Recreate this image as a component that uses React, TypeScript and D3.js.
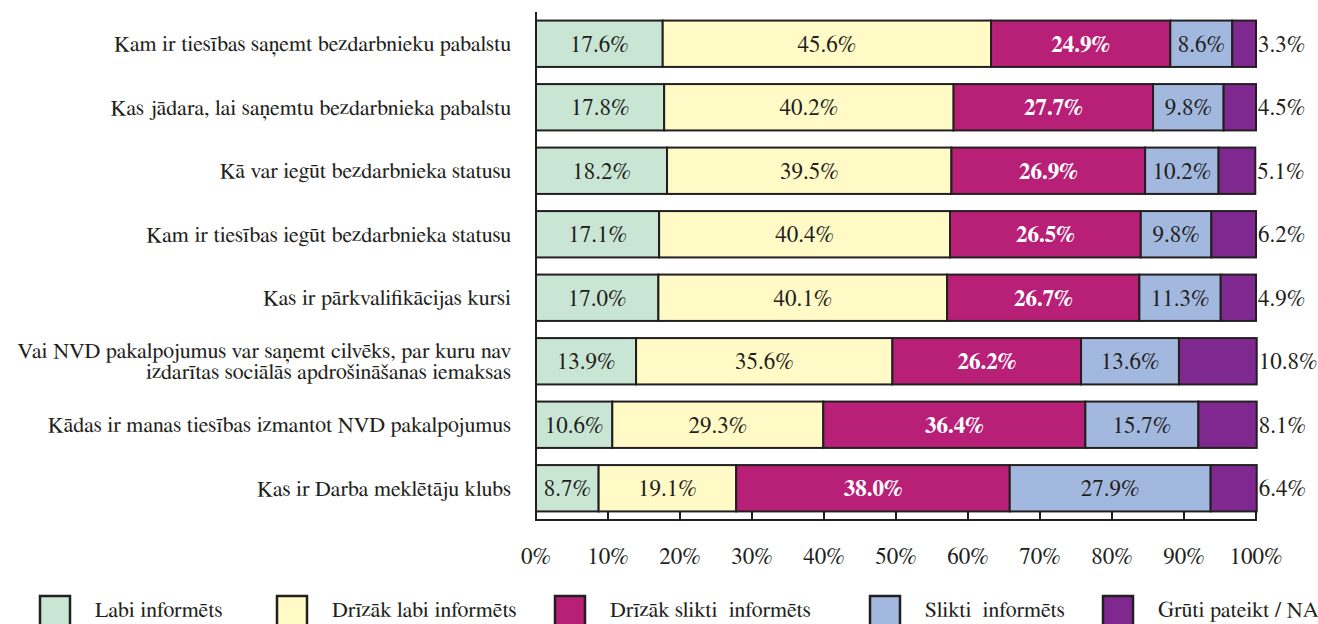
import * as d3 from 'd3';
import React from 'react';

const categories = [
  'Kam ir tiesības saņemt bezdarbnieku pabalstu',
  'Kas jādara, lai saņemtu bezdarbnieka pabalstu',
  'Kā var iegūt bezdarbnieka statusu',
  'Kam ir tiesības iegūt bezdarbnieka statusu',
  'Kas ir pārkvalifikācijas kursi',
  'Vai NVD pakalpojumus var saņemt cilvēks, par kuru nav|izdarītas sociālās apdrošināšanas iemaksas',
  'Kādas ir manas tiesības izmantot NVD pakalpojumus',
  'Kas ir Darba meklētāju klubs'
];

const seriesNames = [
  'Labi informēts',
  'Drīzāk labi informēts',
  'Drīzāk slikti  informēts',
  'Slikti  informēts',
  'Grūti pateikt / NA'
];

const labi = [17.6, 17.8, 18.2, 17.1, 17.0, 13.9, 10.6, 8.7];
const drizakLabi = [45.6, 40.2, 39.5, 40.4, 40.1, 35.6, 29.3, 19.1];
const drizakSlikti = [24.9, 27.7, 26.9, 26.5, 26.7, 26.2, 36.4, 38.0];
const slikti = [8.6, 9.8, 10.2, 9.8, 11.3, 13.6, 15.7, 27.9];
const gruti = [3.3, 4.5, 5.1, 6.2, 4.9, 10.8, 8.1, 6.4];

const tickValues = [0, 10, 20, 30, 40, 50, 60, 70, 80, 90, 100];

const colors = ['#c9e6d5', '#fffac6', '#b81f76', '#a2b8df', '#7f2890'];
const ink = '#231f20';
const font = 'FreeSerif, "Liberation Serif", Tinos, "Nimbus Roman", serif';

const width = 1318;
const height = 624;

const App = () => {
  const series = [labi, drizakLabi, drizakSlikti, slikti, gruti];
  const rows = categories.map((c, i) => {
    const r: Record<string, number | string> = { cat: c };
    seriesNames.forEach((s, j) => (r[s] = series[j][i]));
    return r;
  });
  const stacked = d3.stack<Record<string, number | string>>().keys(seriesNames)(rows as any);

  const x = d3.scaleLinear().domain([0, 100]).range([536, 1256]);
  const y = d3
    .scaleBand<string>()
    .domain(categories)
    .range([12, 520])
    .paddingInner(0.27)
    .paddingOuter(0.135);

  const axisY = 520;
  const legendX = d3.scaleOrdinal<string, number>().domain(seriesNames).range([40, 277, 555, 870, 1103]);

  return (
    <svg width={width} height={height} style={{ position: 'absolute', left: 0, top: 0, background: '#fff' }}>
      {stacked.map((layer, j) => (
        <g key={layer.key}>
          {layer.map((d, i) => (
            <rect
              key={i}
              x={x(d[0])}
              y={y(categories[i])}
              width={x(d[1]) - x(d[0])}
              height={y.bandwidth()}
              fill={colors[j]}
              stroke={ink}
              strokeWidth={2}
            />
          ))}
        </g>
      ))}

      {stacked.map((layer, j) => (
        <g key={'l' + layer.key}>
          {layer.map((d, i) => {
            const v = series[j][i];
            const cy = (y(categories[i]) as number) + y.bandwidth() / 2;
            if (j === 4) {
              return (
                <text key={i} x={x(d[1]) + 2} y={cy} dy="0.35em" fill={ink} fontSize={23} style={{ fontFamily: font }}>
                  {v.toFixed(1)}%
                </text>
              );
            }
            return (
              <text
                key={i}
                x={(x(d[0]) + x(d[1])) / 2}
                y={cy}
                dy="0.35em"
                textAnchor="middle"
                fill={j === 2 ? '#fff' : ink}
                fontSize={23}
                fontWeight={j === 2 ? 'bold' : undefined}
                style={{ fontFamily: font }}
              >
                {v.toFixed(1)}%
              </text>
            );
          })}
        </g>
      ))}

      {categories.map((c) => {
        const lines = c.split('|');
        const cy = (y(c) as number) + y.bandwidth() / 2;
        const lh = 21;
        return (
          <text key={c} x={511} y={cy} textAnchor="end" fill={ink} fontSize={22} style={{ fontFamily: font }}>
            {lines.map((l, k) => (
              <tspan key={k} x={511} y={cy + (k - (lines.length - 1) / 2) * lh} dy="0.35em">
                {l}
              </tspan>
            ))}
          </text>
        );
      })}

      <line x1={x(0)} x2={x(0)} y1={12} y2={axisY + 1} stroke={ink} strokeWidth={2} />
      <line x1={x(0) - 1} x2={x(100) + 1} y1={axisY} y2={axisY} stroke={ink} strokeWidth={2} />
      {tickValues.map((t) => (
        <g key={t}>
          <line x1={x(t)} x2={x(t)} y1={axisY - 8} y2={axisY} stroke={ink} strokeWidth={2} />
          <text x={x(t)} y={556} dy="0.35em" textAnchor="middle" fill={ink} fontSize={23} style={{ fontFamily: font }}>
            {t}%
          </text>
        </g>
      ))}

      {seriesNames.map((s, j) => {
        const bx = legendX(s);
        return (
          <g key={s}>
            <rect x={bx} y={596} width={30} height={30} fill={colors[j]} stroke={ink} strokeWidth={2.5} />
            <text x={bx + 55} y={609} dy="0.35em" fill={ink} fontSize={22} style={{ fontFamily: font, whiteSpace: 'pre' }}>
              {s}
            </text>
          </g>
        );
      })}
    </svg>
  );
};

export default App;
